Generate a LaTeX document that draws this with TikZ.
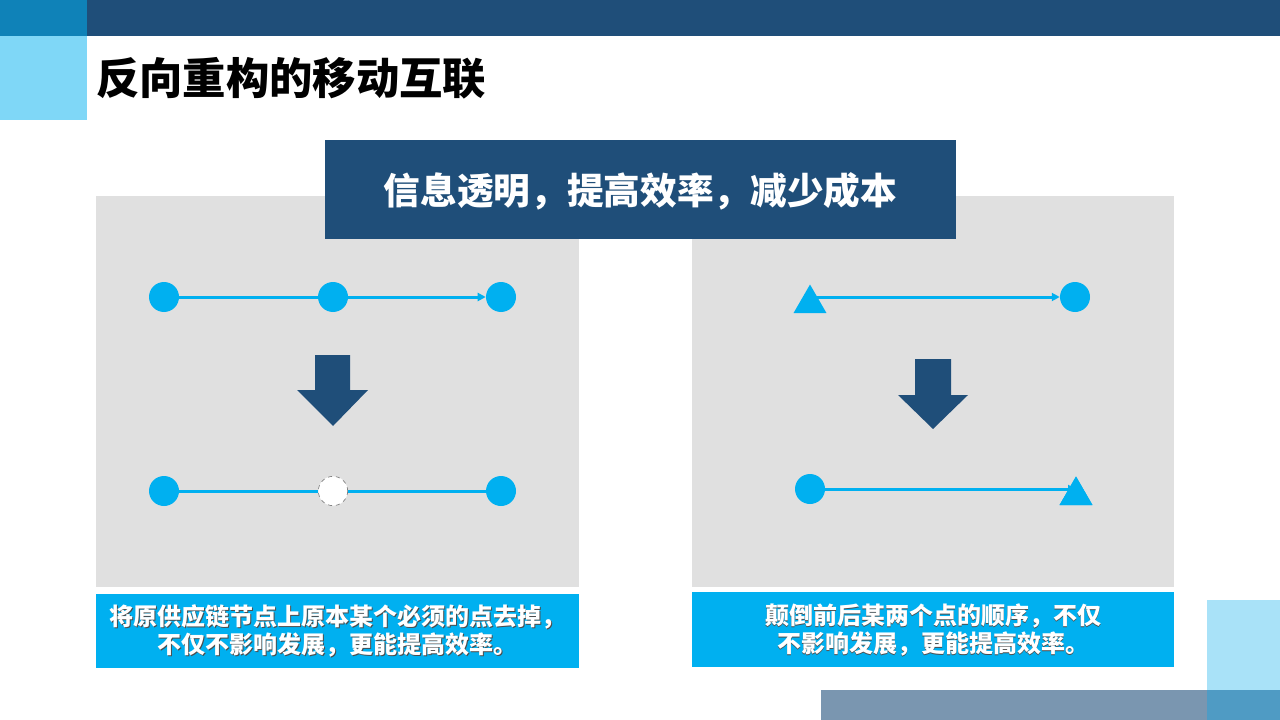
\documentclass[tikz,border=0pt]{standalone}
\usepackage{fontspec}
\newfontfamily\cjk{Noto Sans CJK SC}
\usetikzlibrary{arrows.meta,shapes.geometric}
\definecolor{navy}{HTML}{1F4E79}
\definecolor{midblue}{HTML}{0F82B8}
\definecolor{lightcyan}{HTML}{7FD7F7}
\definecolor{panelgray}{HTML}{E0E0E0}
\definecolor{cyanblue}{HTML}{00B0F0}
\definecolor{paleblue}{HTML}{A9E2F8}
\definecolor{slateblue}{HTML}{7A96B0}
\definecolor{overlapblue}{HTML}{4F9BC4}
\tikzset{
  dot/.style={circle,fill=cyanblue,inner sep=0pt,minimum size=22.5pt},
  ghostdot/.style={circle,fill=white,draw=gray,dashed,line width=0.5pt,inner sep=0pt,minimum size=22pt},
  tri/.style={regular polygon,regular polygon sides=3,fill=cyanblue,inner sep=0pt,minimum size=28.5pt},
  link/.style={draw=cyanblue,line width=2.25pt},
  arrowlink/.style={link,-{Triangle[length=6pt,width=6pt]}},
  caption/.style={font=\cjk\bfseries\fontsize{18pt}{21pt}\selectfont,text=white,align=center},
  captionshadow/.style={font=\cjk\bfseries\fontsize{18pt}{21pt}\selectfont,text=black!70,align=center},
}
\begin{document}
\begin{tikzpicture}[x=0.75pt,y=-0.75pt]
\useasboundingbox (0,0) rectangle (1280,720);
\fill[white] (0,0) rectangle (1280,720);
% top decoration
\fill[navy] (87,0) rectangle (1280,36);
\fill[midblue] (0,0) rectangle (87,36);
\fill[lightcyan] (0,36) rectangle (87,120);
\node[anchor=west,font=\cjk\bfseries\fontsize{32.5pt}{38pt}\selectfont,inner sep=0pt] (title) at (96,78) {反向重构的移动互联};
% panels
\fill[panelgray] (96,196) rectangle (579,587);
\fill[panelgray] (692,196) rectangle (1174,587);
% header box
\fill[navy] (325,140) rectangle (956,239);
\node[text=white,font=\cjk\bfseries\fontsize{27.5pt}{32pt}\selectfont,inner sep=0pt] (header) at (640.5,191) {信息透明，提高效率，减少成本};
% left panel top row
\node[dot] (l1) at (164,297) {};
\node[dot] (l2) at (333,297) {};
\node[dot] (l3) at (501,297) {};
\draw[link] (l1.east) -- (l2.west);
\draw[arrowlink] (l2.east) -- (l3.west);
% left arrow
\fill[navy] (315,355) -- (350,355) -- (350,390) -- (368,390) -- (333,426) -- (297,390) -- (315,390) -- cycle;
% left panel bottom row
\node[dot] (m1) at (164,491) {};
\node[ghostdot] (m2) at (333,491) {};
\node[dot] (m3) at (501,491) {};
\draw[link] (m1.east) -- (m2.west);
\draw[link] (m2.east) -- (m3.west);
% right panel top row
\node[tri] (r1) at (810,303.5) {};
\node[dot] (r2) at (1075,297) {};
\draw[arrowlink] (r1.center |- r2.center) -- (r2.west);
% right arrow
\fill[navy] (915,359) -- (951,359) -- (951,395) -- (968,395) -- (933,429) -- (898,395) -- (915,395) -- cycle;
% right panel bottom row
\node[dot] (s1) at (810,489) {};
\node[tri] (s2) at (1076,495.5) {};
\draw[arrowlink] (s1.east) -- (s2.center |- s1.center);
\node[tri] at (s2.center) {};
% caption boxes
\fill[cyanblue] (96,594) rectangle (579,668);
\fill[cyanblue] (692,592) rectangle (1174,667);
\node[captionshadow] at (338,632) {将原供应链节点上原本某个必须的点去掉，\\不仅不影响发展，更能提高效率。};
\node[caption] (capl) at (337.3,631.3) {将原供应链节点上原本某个必须的点去掉，\\不仅不影响发展，更能提高效率。};
\node[captionshadow] at (933.7,630.7) {颠倒前后某两个点的顺序，不仅\\不影响发展，更能提高效率。};
\node[caption] (capr) at (933,630) {颠倒前后某两个点的顺序，不仅\\不影响发展，更能提高效率。};
% bottom-right decoration
\fill[paleblue] (1207,600) rectangle (1280,720);
\fill[slateblue] (821,690) rectangle (1280,720);
\fill[overlapblue] (1207,690) rectangle (1280,720);
\end{tikzpicture}
\end{document}
